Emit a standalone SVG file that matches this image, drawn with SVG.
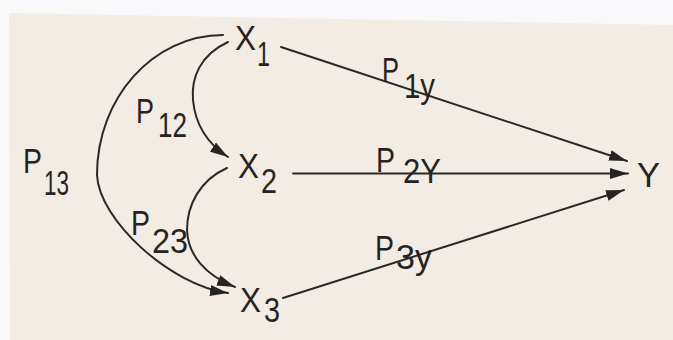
<svg xmlns="http://www.w3.org/2000/svg" width="673" height="340" viewBox="0 0 673 340">
  <defs>
    <style>
      .t { font-family: "Liberation Sans", "DejaVu Sans", sans-serif; font-size: 35px; fill: #262422; }
      .e { fill: none; stroke: #2a2826; stroke-width: 2; stroke-linecap: round; }
    </style>
    <marker id="arr" markerUnits="userSpaceOnUse" markerWidth="20" markerHeight="14" refX="18" refY="7" orient="auto">
      <path d="M0,1.5 L18,7 L0,12.5 Z" fill="#262422"/>
    </marker>
  </defs>
  <rect width="673" height="340" fill="#f8f7fa"/>
  <polygon points="9,13 673,25 673,340 10,340" fill="#f2ece5"/>

  <g id="connectors">
    <g id="edge-P13">
      <path class="e" d="M223,35 C153,35 97,98 97,175 C99,220 170,285 228,293" marker-end="url(#arr)"/>
      <text class="t" x="23" y="173" textLength="19" lengthAdjust="spacingAndGlyphs">P</text>
      <text class="t" x="44" y="195" textLength="25" lengthAdjust="spacingAndGlyphs">13</text>
    </g>
    <g id="edge-P12">
      <path class="e" d="M228,42 C200,55 191,78 193,100 C195,122 205,142 228,157" marker-end="url(#arr)"/>
      <text class="t" x="136" y="123" textLength="18" lengthAdjust="spacingAndGlyphs">P</text>
      <text class="t" x="158" y="137" textLength="29" lengthAdjust="spacingAndGlyphs">12</text>
    </g>
    <g id="edge-P23">
      <path class="e" d="M227,168 C200,180 187,205 187,230 C188,255 205,275 235,287" marker-end="url(#arr)"/>
      <text class="t" x="131" y="235" textLength="19" lengthAdjust="spacingAndGlyphs">P</text>
      <text class="t" x="152" y="253" textLength="36" lengthAdjust="spacingAndGlyphs">23</text>
    </g>
    <g id="edge-P1y">
      <path class="e" d="M281,47 L627,161" marker-end="url(#arr)"/>
      <text class="t" x="382" y="82" textLength="17" lengthAdjust="spacingAndGlyphs">P</text>
      <text class="t" x="404" y="98" textLength="31" lengthAdjust="spacingAndGlyphs">1y</text>
    </g>
    <g id="edge-P2Y">
      <path class="e" d="M293,173.5 L628,173.5" marker-end="url(#arr)"/>
      <text class="t" x="376" y="172" textLength="19" lengthAdjust="spacingAndGlyphs">P</text>
      <text class="t" x="403" y="183" textLength="38" lengthAdjust="spacingAndGlyphs">2Y</text>
    </g>
    <g id="edge-P3y">
      <path class="e" d="M283,298 L624,190" marker-end="url(#arr)"/>
      <text class="t" x="375" y="260" textLength="19" lengthAdjust="spacingAndGlyphs">P</text>
      <text class="t" x="396" y="269" textLength="36" lengthAdjust="spacingAndGlyphs">3y</text>
    </g>
  </g>

  <g id="node-X1">
    <text class="t" x="235" y="50" textLength="21" lengthAdjust="spacingAndGlyphs">X</text>
    <text class="t" x="257" y="66" textLength="13" lengthAdjust="spacingAndGlyphs">1</text>
  </g>
  <g id="node-X2">
    <text class="t" x="238" y="178" textLength="21" lengthAdjust="spacingAndGlyphs">X</text>
    <text class="t" x="261" y="193" textLength="16" lengthAdjust="spacingAndGlyphs">2</text>
  </g>
  <g id="node-X3">
    <text class="t" x="240" y="312" textLength="21" lengthAdjust="spacingAndGlyphs">X</text>
    <text class="t" x="264" y="322" textLength="16" lengthAdjust="spacingAndGlyphs">3</text>
  </g>
  <g id="node-Y">
    <text class="t" x="637" y="187" textLength="23" lengthAdjust="spacingAndGlyphs">Y</text>
  </g>
</svg>
